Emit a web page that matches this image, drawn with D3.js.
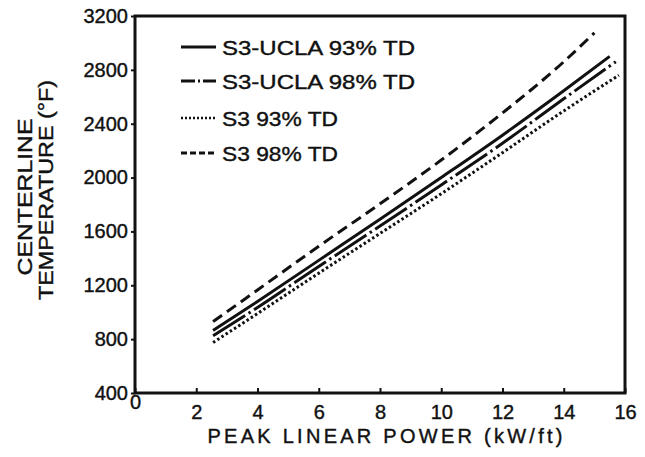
<!DOCTYPE html>
<html><head><meta charset="utf-8">
<script src="https://cdn.jsdelivr.net/npm/d3@7"></script>
<style>
html,body{margin:0;padding:0;background:#fff;}
svg{display:block;font-family:"Liberation Sans",Arial,Helvetica,sans-serif;}
</style></head>
<body><svg id="c" width="645" height="457"></svg>
<script>
// ---- data ----
const xTicks = [0, 2, 4, 6, 8, 10, 12, 14, 16];
const yTicks = [400, 800, 1200, 1600, 2000, 2400, 2800, 3200];
const seriesNames = ["S3-UCLA 93% TD", "S3-UCLA 98% TD", "S3 93% TD", "S3 98% TD"];
const ucla93X = [2.55, 4, 6, 8, 10, 12, 14, 15.5];
const ucla93Y = [865, 1080, 1385, 1690, 2000, 2315, 2645, 2900];
const ucla98X = [2.55, 4, 6, 8, 10, 12, 14, 15.7];
const ucla98Y = [825, 1035, 1340, 1640, 1945, 2255, 2585, 2860];
const s393X = [2.55, 4, 6, 8, 10, 12, 14, 15.8];
const s393Y = [775, 990, 1290, 1585, 1880, 2185, 2495, 2760];
const s398X = [2.55, 4, 6, 8, 10, 12, 14, 15];
const s398Y = [930, 1165, 1490, 1805, 2130, 2480, 2860, 3075];
const xTitle = "PEAK LINEAR POWER (kW/ft)";
const yTitle1 = "CENTERLINE";
const yTitle2 = "TEMPERATURE (°F)";

// ---- drawing ----
const svg = d3.select("#c");
const ink = "#111";
const x = d3.scaleLinear().domain([0, 16]).range([135, 625]);
const y = d3.scaleLinear().domain([400, 3200]).range([393, 16]);

// frame
svg.append("rect").attr("x", x(0)).attr("y", y(3200))
  .attr("width", x(16) - x(0)).attr("height", y(400) - y(3200))
  .attr("fill", "none").attr("stroke", ink).attr("stroke-width", 3);

function inkText(sel) {
  sel.attr("fill", ink).attr("stroke", ink).attr("stroke-width", 0.4)
    .attr("font-family", "Liberation Sans, Arial, sans-serif");
}

// left axis (outward ticks)
const yAxis = d3.axisLeft(y).tickValues(yTicks).tickSize(4).tickPadding(3).tickFormat(d3.format("d"));
const gy = svg.append("g").attr("transform", `translate(${x(0)},0)`).call(yAxis);
gy.select(".domain").remove();
gy.selectAll(".tick line").attr("stroke", ink).attr("stroke-width", 2);
gy.selectAll(".tick text").attr("font-size", 20).call(inkText);

// bottom axis (inward ticks)
const xAxis = d3.axisBottom(x).tickValues(xTicks).tickSize(-5).tickPadding(12).tickFormat(d3.format("d"));
const gx = svg.append("g").attr("transform", `translate(0,${y(400)})`).call(xAxis);
gx.select(".domain").remove();
gx.selectAll(".tick line").attr("stroke", ink).attr("stroke-width", 2);
gx.selectAll(".tick text").attr("font-size", 20).call(inkText);
gx.selectAll(".tick").filter(d => d === 0).select("text").attr("dy", "0.2em");

// axis titles
svg.append("text").attr("x", 385).attr("y", 443).attr("text-anchor", "middle")
  .attr("font-size", 20).call(inkText)
  .attr("textLength", 355).attr("lengthAdjust", "spacing").text(xTitle);
svg.append("text").attr("transform", "translate(32,197) rotate(-90)")
  .attr("text-anchor", "middle").attr("font-size", 21).call(inkText)
  .attr("textLength", 157).attr("lengthAdjust", "spacingAndGlyphs").text(yTitle1);
svg.append("text").attr("transform", "translate(53,190) rotate(-90)")
  .attr("text-anchor", "middle").attr("font-size", 21).call(inkText)
  .attr("textLength", 220).attr("lengthAdjust", "spacingAndGlyphs").text(yTitle2);

// series
const styles = [
  {xs: ucla93X, ys: ucla93Y, dash: null, w: 3},
  {xs: ucla98X, ys: ucla98Y, dash: "38,4,2.5,4", w: 3},
  {xs: s393X, ys: s393Y, dash: "2.5,2.5", w: 3},
  {xs: s398X, ys: s398Y, dash: "11,6", w: 3}
];
const line = d3.line().x(d => x(d[0])).y(d => y(d[1])).curve(d3.curveMonotoneX);
styles.forEach(s => {
  const pts = s.xs.map((v, i) => [v, s.ys[i]]);
  svg.append("path").attr("d", line(pts)).attr("fill", "none")
    .attr("stroke", ink).attr("stroke-width", s.w)
    .attr("stroke-dasharray", s.dash);
});

// legend
const legDash = [null, "14,3,2,3", "2,2", "6,3"];
const legY = [47, 81, 118, 153];
const legLen = [193, 193, 116, 116];
seriesNames.forEach((name, i) => {
  svg.append("line").attr("x1", 181).attr("x2", 216)
    .attr("y1", legY[i]).attr("y2", legY[i])
    .attr("stroke", ink).attr("stroke-width", i === 2 ? 2.5 : 3)
    .attr("stroke-dasharray", legDash[i]);
  svg.append("text").attr("x", 222).attr("y", legY[i]).attr("dy", "0.36em")
    .attr("font-size", 21).call(inkText)
    .attr("textLength", legLen[i]).attr("lengthAdjust", "spacingAndGlyphs").text(name);
});
</script></body></html>
